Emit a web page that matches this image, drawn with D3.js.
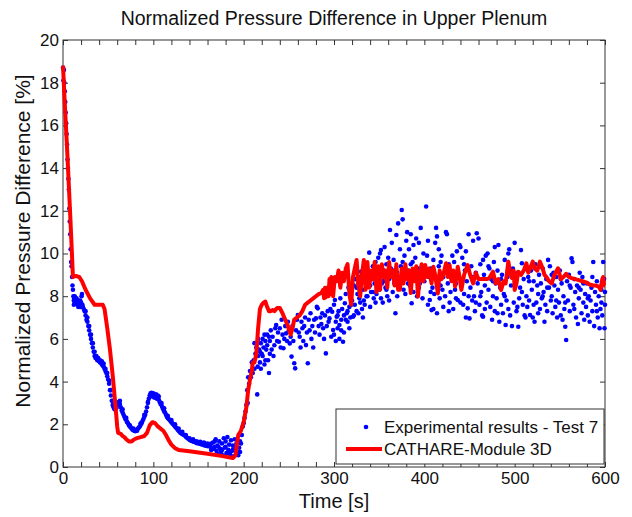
<!DOCTYPE html>
<html><head><meta charset="utf-8">
<script src="https://cdn.jsdelivr.net/npm/d3@7"></script>
<style>body{margin:0;background:#fff}svg{display:block}text{font-family:"Liberation Sans",Arial,sans-serif;fill:#111}</style>
</head><body>
<script>
const titleText = "Normalized Pressure Difference in Upper Plenum";
const xLabel = "Time [s]";
const yLabel = "Normalized Pressure Difference [%]";
const legendLabels = ["Experimental results - Test 7", "CATHARE-Module 3D"];
const xTicks = [0,100,200,300,400,500,600];
const xMinorTicks = d3.range(0,601,20);
const yTicks = [0,2,4,6,8,10,12,14,16,18,20];

// Experimental results: dense part (t, value)
const expDense = [[0,18.7],[0.5,18.1],[1,18.6],[1.5,18.0],[2,17.6],[2.5,17.1],[3,16.6],[3.5,16.1],[4,15.6],[4.5,15.1],[5,14.4],[5.5,14.0],[6,13.5],[6.5,13.0],[7,12.1],[7.5,11.5],[8,10.9],[8.5,10.2],[9,9.6],[9.5,9.4],[10,8.9],[10.5,8.5],[11,8.3],[11.5,8.0],[12,7.8],[12.5,7.9],[13,7.7],[14,7.8],[15,7.7],[16,7.6],[17,7.8],[18,7.6],[19,7.5],[20,7.7],[20.5,8.0],[21,8.1],[21.5,7.6],[22,7.5],[23,7.4],[24,7.3],[25,7.1],[26,6.9],[27,6.8],[28,6.6],[29,6.4],[30,6.2],[31,6.0],[32,5.8],[33,5.6],[34,5.4],[35,5.2],[36,5.1],[37,5.1],[38,5.0],[39,5.0],[40,4.95],[41,4.9],[42,4.9],[43,4.8],[44,4.75],[45,4.7],[46,4.6],[47,4.5],[48,4.4],[49,4.25],[50,4.1],[51,3.9],[52,3.6],[53,3.35],[54,3.1],[55,2.9],[56,2.8],[57,2.7],[58,2.8],[59,2.9],[60,3.0],[61,3.0],[62,3.05],[63,2.95],[64,2.8],[65,2.65],[66,2.55],[67,2.45],[68,2.35],[69,2.25],[70,2.2],[71,2.1],[72,2.05],[73,1.95],[74,1.9],[75,1.85],[76,1.8],[77,1.75],[78,1.72],[79,1.7],[80,1.68],[81,1.7],[82,1.75],[83,1.8],[84,1.85],[85,1.9],[86,1.98],[87,2.05],[88,2.15],[89,2.25],[90,2.35],[91,2.45],[92,2.6],[93,2.8],[94,3.0],[95,3.2],[96,3.35],[97,3.45],[98,3.48],[99,3.4],[100,3.3],[101,3.25],[102,3.35],[103,3.3],[104,3.2],[105,3.35],[106,3.15],[107,3.05],[108,2.95],[109,2.9],[110,2.8],[111,2.7],[112,2.6],[113,2.55],[114,2.45],[115,2.35],[116,2.3],[117,2.25],[118,2.2],[119,2.15],[120,2.1],[121,2.05],[122,2.0],[123,1.95],[124,1.9],[125,1.85],[126,1.8],[127,1.75],[128,1.7],[129,1.65],[130,1.6],[131,1.58],[132,1.55],[133,1.52],[134,1.5],[135,1.48],[136,1.42],[137,1.38],[138,1.35],[139,1.32],[140,1.28],[141,1.25],[142,1.23],[143,1.22],[144,1.2],[145,1.18],[146,1.19],[147,1.15],[148,1.12],[149,1.14],[150,1.1],[151,1.12],[152,1.08],[153,1.1],[154,1.05],[155,1.08],[156,1.02],[157,1.1],[158,1.0],[159,1.05],[160,0.98],[161,1.03],[162,1.0],[163,0.95],[164,1.1],[165,0.9],[166,1.15],[167,0.85],[168,0.95],[169,1.3],[170,0.75],[171,1.0],[172,0.6],[173,1.2],[174,0.85],[175,0.7],[176,1.1],[177,0.55],[178,1.35],[179,0.9],[180,1.2],[181,0.65],[182,1.4],[183,0.8],[184,1.05],[185,0.6],[186,1.25],[187,0.75],[188,1.0],[189,0.5],[190,1.3],[191,0.85],[192,1.1],[193,0.7],[194,0.55],[195,0.9],[196,1.2],[197,1.1],[198,1.5],[199,1.9],[200,2.05],
[12,7.6],[13,8.0],[15,7.9],[17,7.5],[19,7.8],[25,7.3],[27,7.0],[29,6.6],[31,6.2],[33,5.8],[35,5.4],[37,5.2],[39,5.1],[41,5.0],[43,4.95],[45,4.85],[47,4.6],[49,4.4],[51,4.05],[53,3.6],[55,3.1],[57,2.85],[59,2.75],[61,2.9],[63,3.1],[66,2.7],[70,2.3],[74,1.95],[78,1.8],[82,1.7],[86,2.05],[90,2.45],[94,3.05],[97,3.3],[100,3.45],[103,3.4],[106,3.3],[109,3.0],[112,2.75],[116,2.4],[120,2.2],[124,2.0],[128,1.8],[132,1.65],[136,1.5],[140,1.35],[144,1.3],[148,1.2],[152,1.18],[156,1.15],[160,1.1],[164,0.8],[168,1.2],[172,0.95],[176,0.8],[180,0.95],[184,0.7],[188,0.8],[192,0.6],[196,0.7]];

// Experimental results: scattered part 200-400 s
const expScatterA = [[201,2.3],[202,2.6],[203,2.9],[204,3.6],[204.5,3.0],[205,4.2],[206,3.9],[207,4.5],[208,4.2],[209,4.9],[210,4.4],[211,5.0],[212,4.6],[213,5.3],[214,5.6],[215,3.4],[215.5,4.7],[216,5.2],[217,5.5],[218,4.9],[219,5.8],[220,5.3],[221,6.0],[222,5.6],[223,4.8],[224,5.9],[225,5.5],[226,6.2],[227,5.0],[228,4.4],[229,5.9],[230,6.4],
[212,5.8],[216,6.0],[218,5.4],[219,4.6],[221,5.2],[223,6.2],[224,5.0],[226,5.7],[228,6.1],[229,5.3],[231,5.5],[232,6.1],[233,5.2],[234,5.7],[235,6.5],[236,6.65],[237,5.9],[238,6.3],[239,5.87],[240,6.5],[241,5.6],[242,6.9],[243,6.2],[244,5.56],[245,6.0],[246,6.6],[247,6.26],[248,5.9],[249,6.8],[250,6.4],[251,5.79],[252,6.1],[253,5.17],[254,6.6],[255,5.9],[256,4.86],[257,4.62],[258,6.4],[259,6.9],[260,7.12],[261,6.3],[262,6.1],[263,5.6],[264,6.8],[265,6.5],[266,5.9],[267,6.6],[268,7.0],[269,5.71],[270,6.3],[271,4.86],[272,6.9],[273,6.4],[274,7.2],[275,6.0],[276,6.6],[277,5.6],[278,6.9],[279,6.3],[280,6.96],[281,7.5],[282,7.43],[283,6.6],[284,6.2],[285,7.0],[286,6.7],[287,7.2],[288,6.5],[289,6.0],[290,7.1],[291,5.32],[292,6.6],[293,7.3],[294,6.8],[295,6.96],[296,7.4],[297,6.1],[298,7.27],[299,6.42]];
const expScatterB = [[300,7.6],[301,7.82],[302,6.8],[303,7.04],[304,6.5],[305,7.3],[306,6.65],[307,7.9],[308,6.9],[309,7.4],[310,5.87],[311,7.1],[312,7.67],[313,8.1],[314,7.2],[315,6.8],[316,8.4],[317,7.5],[318,7.0],[319,8.2],[320,7.8],[321,7.04],[322,8.5],[323,7.6],[324,8.8],[325,7.3],[326,8.1],[327,8.6],[328,7.9],[329,8.9],[330,9.15],[331,7.4],[332,8.3],[333,7.8],[334,8.7],[335,9.3],[336,8.0],[337,8.5],[338,9.0],[339,10.04],[340,7.5],[341,8.2],[342,8.8],[343,9.4],[344,7.9],[345,8.6],[346,9.6],[347,8.1],[348,9.0],[349,9.8],[350,8.3],[351,10.0],[352,10.16],[353,8.6],[354,7.7],[355,9.2],[356,10.3],[357,8.4],[358,9.5],[359,8.0],[360,9.8],[361,8.8],[362,11.1],[363,9.3],[364,10.5],[365,8.2],[366,9.7],[367,8.6],[368,7.2],[369,10.87],[370,9.1],[371,11.41],[372,8.7],[373,10.2],[374,9.4],[375,12.04],[376,11.6],[377,8.3],[378,9.9],[379,8.9],[380,10.6],[381,11.0],[382,9.2],[383,10.2],[384,8.5],[385,10.9],[386,7.67],[387,9.6],[388,10.4],[389,8.8],[390,9.8],[391,10.7],[392,8.0],[393,9.3],[394,10.5],[395,8.6],[396,11.2],[397,9.1],[398,7.9],[399,10.0],[400,8.7],
[300,6.2],[302,5.9],[304,7.1],[306,6.0],[308,6.4],[311,6.3],[313,6.9],[315,7.3],[317,6.5],[319,7.6],[322,7.1],[325,8.4],[327,7.2],[329,7.7],[332,7.0],[334,7.6],[337,8.0],[340,8.5],[343,8.2],[346,7.7],[349,8.4],[352,7.9],[355,8.7],[358,8.3],[361,7.8],[364,8.9],[367,9.2],[370,8.0],[373,8.9],[376,9.6],[379,8.1],[382,8.6],[385,9.5],[388,8.2],[391,9.1],[394,8.4],[397,8.8],[400,9.3]];
// Experimental results: scattered part 400-600 s
const expScatterC = [[402,12.2],[403,9.9],[404,10.6],[405,8.9],[406,7.82],[407,9.3],[408,7.35],[409,8.4],[410,9.7],[411,8.1],[412,10.5],[413,11.2],[414,10.8],[415,8.7],[416,9.4],[417,7.9],[418,8.5],[419,9.9],[420,8.3],[421,7.5],[422,9.1],[423,8.0],[424,11.0],[425,10.9],[426,8.6],[427,9.5],[428,7.7],[429,8.2],[430,9.0],[431,8.8],[432,7.4],[433,9.6],[434,8.3],[435,7.9],[436,10.1],[437,7.82],[438,8.9],[439,10.4],[440,10.3],[441,8.5],[442,9.8],[443,7.6],[444,8.1],[445,9.2],[446,7.0],[447,8.7],[448,7.43],[449,10.9],[450,6.96],[451,8.4],[452,9.4],[453,7.8],[454,10.6],[455,8.0],[456,7.3],[457,9.1],[458,10.95],[459,8.6],[460,10.7],[461,7.6],[462,9.5],[463,8.2],[464,7.1],[465,7.04],[466,9.0],[467,8.5],[468,9.9],[469,7.7],[470,10.0],[471,8.3],[472,9.3],[473,7.5],[474,8.8],[475,6.9],[476,8.0],[477,9.6],[478,7.3],[479,8.6],[480,7.9],[481,9.2],[482,10.4],[483,6.8],[484,8.4],[485,7.6],[486,9.0],[487,7.2],[488,8.1],[489,9.7],[490,6.65],[491,7.8],[492,8.9],[493,10.0],[494,10.2],[495,7.1],[496,8.5],[497,6.6],[498,9.3],[499,7.7],[500,10.5],
[401,9.2],[404,7.6],[407,8.2],[410,7.4],[414,7.2],[418,9.6],[421,8.9],[427,7.3],[431,9.9],[435,8.6],[440,7.7],[444,9.5],[449,8.0],[453,8.9],[457,7.7],[462,8.0],[467,7.4],[471,9.4],[476,8.7],[481,7.2],[485,8.8],[489,8.0],[493,7.4],[497,9.1],[416,10.2],[446,10.1],[465,9.7],[478,10.3]];
const expScatterD = [[501,8.6],[502,7.3],[503,9.1],[504,6.57],[505,7.9],[506,8.4],[507,10.16],[508,9.54],[509,7.6],[510,8.8],[511,7.1],[512,9.3],[513,8.0],[514,7.5],[515,8.9],[516,7.8],[517,7.12],[518,9.2],[519,8.3],[520,7.0],[521,8.7],[522,6.8],[523,9.5],[524,7.7],[525,8.5],[526,8.1],[527,9.0],[528,7.4],[529,8.6],[530,7.9],[531,9.3],[532,8.2],[533,6.8],[534,7.6],[535,8.8],[536,7.3],[537,9.7],[538,8.4],[539,9.4],[540,7.8],[541,8.0],[542,7.2],[543,9.1],[544,8.5],[545,7.5],[546,8.9],[547,7.0],[548,8.3],[549,7.7],[550,9.2],[551,7.1],[552,8.6],[553,6.9],[554,8.0],[555,7.4],[556,6.57],[557,5.95],[558,8.7],[559,7.8],[560,9.0],[561,7.3],[562,8.4],[563,9.77],[564,9.6],[565,7.6],[566,8.8],[567,8.2],[568,7.0],[569,8.5],[570,6.7],[571,7.9],[572,9.1],[573,8.3],[574,7.2],[575,8.9],[576,7.7],[577,6.9],[578,8.1],[579,7.5],[580,8.6],[581,7.1],[582,8.0],[583,6.8],[584,7.8],[585,8.4],[586,7.3],[587,9.6],[588,6.6],[589,8.2],[590,7.6],[591,8.7],[592,7.0],[593,8.0],[594,6.5],[595,7.4],[596,8.3],[597,7.1],[598,9.6],[599,8.8],[599.5,6.5],[600,7.6],[600,8.2],
[503,7.5],[508,8.2],[512,7.0],[516,8.7],[521,7.6],[526,7.2],[531,8.0],[536,8.4],[541,9.0],[546,7.8],[551,8.8],[556,7.7],[561,8.5],[566,7.4],[571,8.4],[576,8.6],[581,7.9],[586,8.9],[591,7.3],[596,7.7]];

// CATHARE-Module 3D (t, value)
const cathare = [[0,18.8],[2,17.0],[5,14.5],[8,11.8],[11,8.9],[14,8.95],[18,8.9],[21,8.7],[25,8.3],[30,7.9],[35,7.6],[40,7.6],[44,7.6],[46,7.4],[49,6.5],[52,5.5],[55,4.3],[58,2.9],[60,1.9],[61,1.6],[64,1.55],[66,1.45],[68,1.4],[70,1.3],[73,1.2],[76,1.2],[79,1.3],[82,1.35],[86,1.4],[90,1.45],[93,1.6],[96,1.95],[99,2.1],[102,2.05],[105,1.9],[108,1.8],[111,1.7],[114,1.5],[117,1.25],[120,1.05],[124,0.88],[128,0.8],[140,0.74],[160,0.62],[175,0.52],[188,0.42],[191,0.55],[194,1.5],[197,1.7],[200,2.1],[203,2.8],[205,3.6],[207,4.1],[209,4.5],[210,4.9],[212,4.9],[214,5.3],[216,6.5],[218,7.4],[220,7.6],[222,7.7],[224,7.75],[226,7.5],[228,7.3],[230,7.3],[232,7.35],[234,7.3],[237,7.45],[240,7.45],[243,7.2],[246,6.9],[249,6.6],[252,6.2],[254,6.5],[256,6.9],[259,7.0],[262,7.1],[265,7.3],[268,7.6],[271,7.7],[274,7.8],[277,7.9],[280,8.0],[283,8.1],[286,8.15],[288,8.3],[289,7.9],[290,8.4],[291,7.95],[292,8.4],[294,8.0],[295,8.8],[296,8.1],[297,8.9],[299,8.0],[301,8.9],[303,8.7],[305,9.2],[307,8.4],[309,9.1],[311,8.7],[313,9.3],[315,9.5],[317,8.1],[319,7.6],[321,8.9],[323,9.3],[325,9.7],[327,8.5],[329,8.0],[331,9.0],[333,9.7],[335,8.3],[337,9.6],[339,8.4],[341,9.2],[343,8.8],[345,9.6],[347,8.2],[349,9.4],[351,8.3],[353,9.5],[355,8.9],[357,9.2],[359,8.4],[361,9.6],[363,8.9],[365,9.2],[367,8.5],[369,9.5],[371,8.3],[373,8.3],[375,9.3],[377,8.6],[379,9.5],[381,8.8],[383,9.2],[385,8.15],[387,9.3],[389,8.7],[391,9.4],[393,7.98],[395,9.0],[397,9.5],[399,8.7],[401,9.46],[403,8.9],[405,9.3],[408,8.6],[410,9.38],[412,9.0],[415,8.13],[417,9.2],[419,8.8],[421,9.0],[424,9.54],[426,8.9],[428,9.45],[430,8.7],[432,9.2],[434,8.45],[437,9.38],[439,8.9],[441,8.29],[444,9.0],[448,9.46],[451,8.95],[454,8.6],[457,9.1],[460,8.8],[463,8.8],[466,8.8],[469,8.8],[472,8.85],[476,9.15],[479,8.6],[482,8.8],[485,8.29],[488,8.7],[490,8.6],[493,9.62],[495,9.1],[497,8.85],[499,9.2],[500,8.29],[502,8.6],[504,9.15],[507,9.0],[510,9.2],[513,9.54],[515,9.1],[517,9.3],[520,9.62],[522,9.3],[525,9.2],[528,9.62],[531,9.3],[533,9.0],[535,8.91],[538,8.7],[541,8.6],[544,9.0],[548,9.31],[551,8.8],[554,8.9],[557,9.05],[560,8.9],[563,8.85],[567,8.8],[571,8.75],[575,8.7],[579,8.65],[583,8.55],[587,8.5],[590,8.5],[593,8.45],[595,8.3],[597,8.8],[598,8.9],[599,8.5],[600,8.5]];

const W = 632, H = 517;
const m = {left:63, right:605, top:40, bottom:467};
const svg = d3.select("body").append("svg").attr("width",W).attr("height",H);
const x = d3.scaleLinear().domain([0,600]).range([m.left,m.right]);
const y = d3.scaleLinear().domain([0,20]).range([m.bottom,m.top]);

const axisCol = "#333";
svg.append("rect").attr("x",m.left).attr("y",m.top).attr("width",m.right-m.left).attr("height",m.bottom-m.top)
  .attr("fill","none").attr("stroke",axisCol).attr("stroke-width",1);

const gxB = svg.append("g").attr("transform",`translate(0,${m.bottom})`)
  .call(d3.axisBottom(x).tickValues(xMinorTicks).tickSize(-5).tickFormat(""));
const gxT = svg.append("g").attr("transform",`translate(0,${m.top})`)
  .call(d3.axisTop(x).tickValues(xMinorTicks).tickSize(-5).tickFormat(""));
const gxL = svg.append("g").attr("transform",`translate(0,${m.bottom})`)
  .call(d3.axisBottom(x).tickValues(xTicks).tickSize(0).tickPadding(5).tickFormat(d3.format("d")));
const gyL = svg.append("g").attr("transform",`translate(${m.left},0)`)
  .call(d3.axisLeft(y).tickValues(yTicks).tickSize(-5).tickPadding(4).tickFormat(d3.format("d")));
const gyR = svg.append("g").attr("transform",`translate(${m.right},0)`)
  .call(d3.axisRight(y).tickValues(yTicks).tickSize(-5).tickFormat(""));
[gxB,gxT,gxL,gyL,gyR].forEach(g=>{
  g.select(".domain").remove();
  g.selectAll(".tick line").attr("stroke",axisCol);
  g.selectAll(".tick text").style("font-size","17px").attr("fill","#111")
    .style("font-family","'Liberation Sans',Arial,sans-serif");
});

const plot = svg.append("g");
const allExp = expDense.concat(expScatterA, expScatterB, expScatterC, expScatterD);
plot.selectAll("circle.exp").data(allExp).enter().append("circle")
  .attr("class","exp").attr("cx",d=>x(d[0])).attr("cy",d=>y(d[1])).attr("r",2.3).attr("fill","#0000ff");
const line = d3.line().x(d=>x(d[0])).y(d=>y(d[1]));
plot.append("path").datum(cathare).attr("d",line).attr("fill","none")
  .attr("stroke","#ff0000").attr("stroke-width",4).attr("stroke-linejoin","round");

svg.append("text").attr("x",334).attr("y",25).attr("text-anchor","middle")
  .style("font-size","19.5px").text(titleText);
svg.append("text").attr("x",334).attr("y",508).attr("text-anchor","middle")
  .style("font-size","20px").text(xLabel);
svg.append("text").attr("transform","translate(30,241) rotate(-90)").attr("text-anchor","middle")
  .style("font-size","21px").text(yLabel);

const lg = svg.append("g");
lg.append("rect").attr("x",336).attr("y",409).attr("width",268).attr("height",55)
  .attr("fill","#fff").attr("stroke",axisCol).attr("stroke-width",1);
lg.append("circle").attr("cx",366).attr("cy",427).attr("r",2.3).attr("fill","#0000ff");
lg.append("text").attr("x",384).attr("y",433).style("font-size","17px").text(legendLabels[0]);
lg.append("line").attr("x1",346).attr("x2",382).attr("y1",449).attr("y2",449)
  .attr("stroke","#ff0000").attr("stroke-width",4);
lg.append("text").attr("x",384).attr("y",455).style("font-size","17px").text(legendLabels[1]);
</script>
</body></html>
